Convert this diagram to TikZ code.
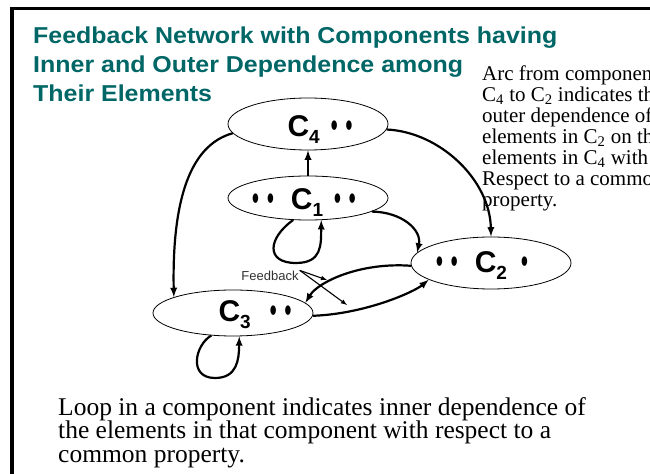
\documentclass[tikz,border=0pt]{standalone}
\usepackage{graphicx}
\usepackage{fontspec}
\setmainfont{Liberation Serif}
\newfontfamily\arialfont{Liberation Sans}
\newfontfamily\titlefont[FakeStretch=1.085]{Liberation Sans}
\usetikzlibrary{shapes.geometric}
\definecolor{titleteal}{RGB}{0,102,102}
\newcommand{\compname}[1]{{\arialfont\bfseries\fontsize{30bp}{30bp}\selectfont C\raisebox{-7bp}{\fontsize{19bp}{19bp}\selectfont #1}}}
\newcommand{\elemdot}{{\arialfont\bfseries\fontsize{30bp}{30bp}\selectfont\scalebox{0.65}[1.1]{•}}}
\newcommand{\elemdots}{\elemdot\hspace{8bp}\elemdot}
\tikzset{
  comp/.style={draw,ellipse,line width=0.8bp,minimum width=160bp,inner sep=0pt},
  complabel/.style={anchor=base,inner sep=0pt},
  arc/.style={->,line width=2.2bp},
  thinarc/.style={->,line width=1.1bp},
}
\begin{document}
\begin{tikzpicture}[>=latex,line join=bevel,]
\useasboundingbox (0bp,0bp) rectangle (650bp,474bp);
\clip (0bp,0bp) rectangle (650bp,474bp);
%% frame
\draw [line width=3.5bp,line join=miter] (652bp,465.4bp) -- (11.8bp,465.4bp) -- (11.8bp,-2bp);
%% texts
\node (title) at (33bp,447.5bp) [anchor=north west,inner sep=0pt,align=left,text=titleteal,font=\titlefont\bfseries\fontsize{23bp}{29bp}\selectfont] {Feedback Network with Components having\\Inner and Outer Dependence among\\Their Elements};
\node (arcnote) at (482bp,408.5bp) [anchor=north west,inner sep=0pt,align=left,font=\fontsize{21bp}{21bp}\selectfont] {Arc from component\\C\textsubscript{4} to C\textsubscript{2} indicates the\\outer dependence of the\\elements in C\textsubscript{2} on the\\elements in C\textsubscript{4} with\\Respect to a common\\property.};
\node (loopnote) at (58bp,77bp) [anchor=north west,inner sep=0pt,align=left,font=\fontsize{25.5bp}{23.5bp}\selectfont] {Loop in a component indicates inner dependence of\\the elements in that component with respect to a\\common property.};
%% components
\node (c4) at (308bp,350bp) [comp,minimum height=52bp] {};
\node (c1) at (308bp,276bp) [comp,minimum height=44bp] {};
\node (c3) at (233bp,161bp) [comp,minimum height=46bp] {};
\node (c2) at (491bp,211bp) [comp,minimum height=52bp] {};
\node (c4label) at (320bp,337bp) [complabel] {\compname{4}\hspace{11bp}\elemdots};
\node (c1label) at (304bp,264bp) [complabel] {\elemdots\hspace{17bp}\compname{1}\hspace{11bp}\elemdots};
\node (c3label) at (255bp,152bp) [complabel] {\compname{3}\hspace{19bp}\elemdots};
\node (c2label) at (482bp,201bp) [complabel] {\elemdots\hspace{17bp}\compname{2}\hspace{14bp}\elemdot};
%% arcs
\draw [arc] (c1) -- (c4);
\draw [arc] (c4.187) ..controls (190bp,329bp) and (172bp,274bp) .. (c3.165);
\draw [arc] (c4.-4) ..controls (440bp,342bp) and (490bp,294bp) .. (c2.north);
\draw [arc] (c1.-12) ..controls (402bp,262bp) and (422bp,244bp) .. (c2.172);
\draw [arc] (c3.-2) ..controls (365bp,160bp) and (414bp,182bp) .. (c2.195);
\draw [arc] (c2.182) ..controls (360bp,212bp) and (318bp,192bp) .. (c3.8);
%% loops
\draw [arc] (c1.236) ..controls (268bp,236bp) and (265bp,211bp) .. (296bp,211bp)
  ..controls (322bp,211bp) and (321bp,229bp) .. (c1.301);
\draw [arc] (c3.226) ..controls (195bp,129bp) and (188bp,96bp) .. (215bp,96bp)
  ..controls (237bp,96bp) and (239bp,114bp) .. (c3.285);
%% feedback
\node (fb) at (270bp,193bp) [anchor=base,inner sep=1bp,text=black!80,font=\arialfont\fontsize{13bp}{13bp}\selectfont] {Feedback};
\coordinate (fbtipa) at (327bp,194bp);
\coordinate (fbtipb) at (347bp,169bp);
\draw [thinarc] (fb.north east) -- (fbtipa);
\draw [thinarc] (fb.north east) -- (fbtipb);
%
\end{tikzpicture}
\end{document}
